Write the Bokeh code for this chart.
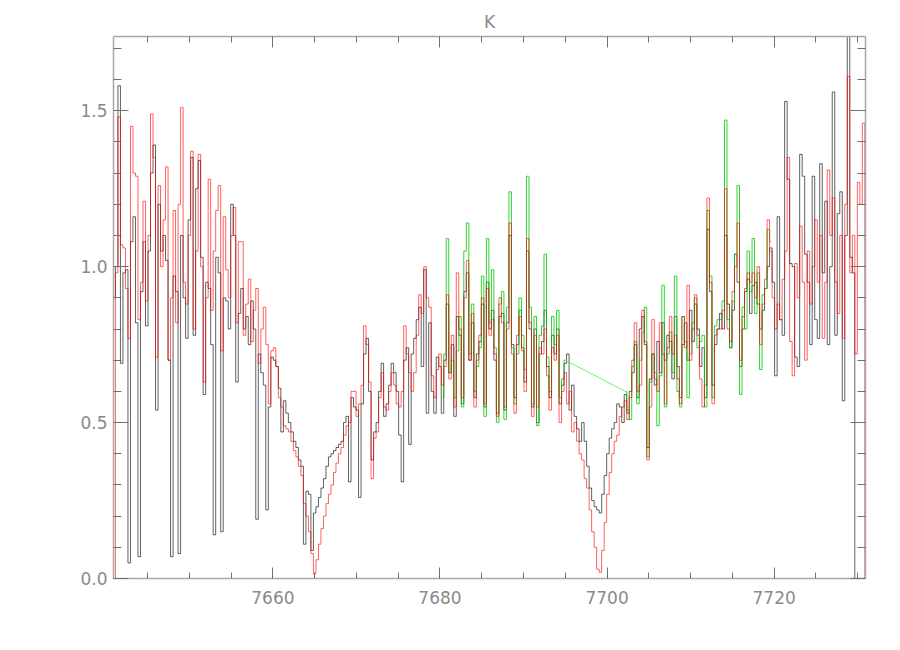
import numpy as np
from bokeh.plotting import figure
from bokeh.models import Range1d, LinearAxis, SingleIntervalTicker, PrintfTickFormatter, CustomJSTickFormatter
from bokeh.embed import file_html
from bokeh.resources import INLINE

# Wavelength grid of the spectra (Angstrom)
WAVE_START = 7641.0
WAVE_STEP = 0.3
GREEN_A_START = 7680.3
GREEN_B_START = 7702.2

# Observed spectrum (black)
BLACK = [
    0.90, 1.00, 1.58, 0.69, 0.98, 0.99, 0.05, 1.08, 1.16, 0.82,
    0.07, 0.92, 1.08, 0.81, 1.05, 1.30, 1.39, 0.54, 1.20, 1.05,
    1.10, 1.02, 0.70, 0.07, 0.97, 0.92, 0.08, 1.10, 0.90, 0.77,
    1.15, 1.35, 0.78, 1.25, 1.34, 1.03, 0.59, 0.95, 0.93, 0.75,
    0.14, 1.03, 0.98, 0.15, 0.90, 0.89, 0.80, 1.20, 1.10, 0.63,
    0.85, 0.93, 0.80, 0.84, 0.75, 0.89, 0.80, 0.19, 0.72, 0.66,
    0.62, 0.22, 0.55, 0.71,
    0.70, 0.68, 0.61, 0.47, 0.57, 0.53, 0.50, 0.47, 0.44, 0.42,
    0.38, 0.36, 0.11, 0.28, 0.27, 0.09, 0.21, 0.23, 0.26, 0.29,
    0.32, 0.36, 0.39, 0.40, 0.41, 0.42, 0.43, 0.44, 0.50, 0.52,
    0.31, 0.58, 0.55, 0.54, 0.26, 0.56, 0.72, 0.77, 0.60, 0.38,
    0.47, 0.50, 0.60, 0.69, 0.52, 0.56, 0.62, 0.69, 0.66, 0.60,
    0.46, 0.31, 0.70, 0.74, 0.43, 0.72, 0.77, 0.83, 0.87, 0.68,
    0.99, 0.53, 0.82, 0.60, 0.53, 0.71, 0.68,
    0.53, 0.70, 0.88, 0.66, 0.75, 0.52, 0.84, 0.78, 0.56, 0.92,
    0.98, 0.70, 0.82, 0.58, 0.72, 0.76, 0.88, 0.55, 0.95, 0.80,
    0.86, 0.70, 0.53, 0.84, 0.85, 0.54, 0.82, 1.10, 0.75, 0.58,
    0.75, 0.86, 0.74, 0.63, 1.05, 0.80, 0.55, 0.80, 0.50, 0.72,
    0.76, 0.86, 0.68, 0.58, 0.78, 0.72, 0.80, 0.56, 0.62, 0.69,
    0.72, 0.54, 0.62, 0.52, 0.48, 0.44,
    0.50, 0.44, 0.36, 0.29, 0.25, 0.23, 0.22, 0.21, 0.27, 0.33,
    0.40, 0.45, 0.48, 0.50, 0.56, 0.55, 0.50, 0.59, 0.53, 0.60,
    0.66, 0.75, 0.58, 0.80, 0.84, 0.75, 0.42, 0.64, 0.72, 0.62,
    0.76, 0.66, 0.82, 0.70, 0.78, 0.76, 0.64, 0.84, 0.68, 0.58,
    0.75, 0.82, 0.70, 0.86, 0.76, 0.88, 0.80, 0.68, 0.74, 0.58,
    1.12, 0.92, 0.62, 0.75, 0.80,
    0.85, 0.80, 1.10, 0.88, 0.74, 0.86, 1.04, 0.95, 0.68, 0.80,
    0.92, 0.96, 0.85, 0.94, 0.95, 0.88, 0.80, 0.86, 0.93, 1.00,
    1.06, 0.95, 0.65, 1.16, 0.83, 0.78, 1.53, 1.28, 1.01, 1.00,
    0.71, 0.68, 1.36, 1.29, 1.04, 0.95, 0.75, 1.29, 0.83, 0.77,
    1.33, 0.98, 1.21, 0.75, 1.00, 1.56, 0.78, 1.17, 1.24, 0.57,
    1.10, 1.80, 1.03, 0.98, 0.00,
]

# Model / corrected spectrum (red)
RED = [
    0.00, 0.98, 1.48, 1.07, 1.06, 0.93, 0.77, 1.45, 1.30, 1.29,
    0.83, 0.95, 1.21, 0.89, 1.10, 1.49, 1.35, 0.71, 1.26, 1.00,
    1.15, 1.32, 0.70, 0.90, 1.18, 0.82, 1.20, 1.51, 0.95, 0.88,
    1.10, 1.37, 0.80, 1.05, 1.36, 1.00, 0.63, 0.90, 1.28, 0.86,
    1.05, 1.18, 1.26, 0.73, 1.16, 0.99, 0.90, 1.10, 1.19, 0.82,
    1.08, 1.08, 0.78, 0.88, 0.96, 0.76, 0.86, 0.93, 0.69, 0.80,
    0.87, 0.75, 0.56, 0.73,
    0.74, 0.68, 0.58, 0.55, 0.49, 0.48, 0.47, 0.44, 0.41, 0.39,
    0.36, 0.33, 0.24, 0.20, 0.15, 0.08, 0.015, 0.06, 0.11, 0.16,
    0.20, 0.24, 0.27, 0.30, 0.34, 0.37, 0.40, 0.42, 0.46, 0.49,
    0.50, 0.60, 0.60, 0.52, 0.56, 0.62, 0.81, 0.75, 0.63, 0.32,
    0.45, 0.47, 0.58, 0.66, 0.55, 0.54, 0.60, 0.66, 0.62, 0.56,
    0.55, 0.60, 0.81, 0.72, 0.66, 0.60, 0.66, 0.78, 0.91, 0.85,
    1.00, 0.90, 0.87, 0.65, 0.58, 0.67, 0.72,
    0.62, 0.68, 0.91, 0.64, 0.78, 0.55, 0.98, 0.80, 0.58, 0.90,
    1.02, 0.70, 0.85, 0.55, 0.70, 0.78, 0.90, 0.56, 0.93, 0.78,
    0.83, 0.72, 0.52, 0.90, 0.82, 0.55, 0.80, 1.14, 0.72, 0.53,
    0.78, 0.84, 0.73, 0.60, 1.09, 0.82, 0.52, 0.78, 0.55, 0.74,
    0.72, 0.80, 0.65, 0.54, 0.74, 0.70, 0.78, 0.50, 0.60, 0.66,
    0.56, 0.60, 0.47, 0.50, 0.44, 0.40,
    0.38, 0.32, 0.29, 0.22, 0.15, 0.10, 0.03, 0.02, 0.09, 0.18,
    0.27, 0.34, 0.40, 0.44, 0.46, 0.52, 0.55, 0.57, 0.51, 0.58,
    0.70, 0.82, 0.60, 0.62, 0.86, 0.76, 0.38, 0.55, 0.83, 0.64,
    0.60, 0.82, 0.72, 0.56, 0.74, 0.84, 0.72, 0.78, 0.64, 0.56,
    0.84, 0.74, 0.94, 0.70, 0.80, 0.91, 0.78, 0.64, 0.55, 0.62,
    1.22, 0.95, 0.56, 0.78, 0.80,
    0.80, 0.86, 1.25, 0.80, 0.76, 0.92, 1.00, 1.14, 0.70, 0.84,
    0.93, 0.98, 0.95, 0.98, 0.90, 1.00, 0.75, 0.88, 0.96, 1.15,
    1.05, 0.90, 0.80, 0.88, 0.83, 0.96, 1.05, 1.35, 0.76, 0.65,
    1.01, 0.90, 1.13, 0.95, 0.70, 1.05, 0.88, 1.00, 1.15, 0.95,
    1.10, 0.77, 0.95, 1.31, 1.10, 1.22, 0.95, 0.85, 1.10, 0.77,
    1.20, 1.61, 0.98, 1.10, 0.72, 1.27, 1.20, 1.46, 0.00,
]

# Second observation (green), two pieces
GREEN_A = [
    0.58, 0.72, 1.09, 0.66, 0.70, 0.58, 0.73, 0.84, 0.55, 1.05,
    1.14, 0.72, 0.88, 0.60, 0.68, 0.74, 0.97, 0.52, 1.09, 0.82,
    0.99, 0.74, 0.50, 0.88, 0.92, 0.51, 0.87, 1.24, 0.74, 0.56,
    0.72, 0.90, 0.78, 0.67, 1.29, 0.87, 0.56, 0.84, 0.49, 0.78,
    0.81, 1.04, 0.71, 0.60, 0.84, 0.75, 0.86, 0.58, 0.64, 0.70,
]
GREEN_B = [
    0.60, 0.54, 0.51, 0.68, 0.76, 0.56, 0.70, 0.79, 0.87, 0.39,
    0.63, 0.72, 0.66, 0.49, 0.65, 0.94, 0.55, 0.72, 0.79, 0.66,
    0.97, 0.60, 0.55, 0.84, 0.76, 0.58, 0.72, 0.82, 0.90, 0.74,
    0.76, 0.78, 0.55, 1.18, 0.97, 0.58, 0.81, 0.83,
    0.83, 0.89, 1.47, 0.83, 0.74, 0.89, 1.04, 1.26, 0.59, 0.87,
    0.80, 1.05, 0.92, 1.09, 0.85, 0.98, 0.67, 0.91, 0.93, 1.12, 1.08,
]

TITLE = "K"
X_RANGE = (7640.92, 7730.93)
Y_RANGE = (0.0, 1.738)

xb = WAVE_START + WAVE_STEP * np.arange(len(BLACK))
xr = WAVE_START + WAVE_STEP * np.arange(len(RED))
xga = GREEN_A_START + WAVE_STEP * np.arange(len(GREEN_A))
xgb = GREEN_B_START + WAVE_STEP * np.arange(len(GREEN_B))

p = figure(width=884, height=634,
           x_range=Range1d(*X_RANGE), y_range=Range1d(*Y_RANGE),
           output_backend="svg", toolbar_location=None,
           min_border_left=113, min_border_right=19,
           min_border_top=36, min_border_bottom=56)

p.xgrid.visible = False
p.ygrid.visible = False
p.outline_line_color = None
p.background_fill_color = "white"
p.border_fill_color = "white"

TXT = "#8a8a8a"
FONT = "DejaVu Sans"

p.title.text = TITLE
p.title.align = "center"
p.title.text_font = FONT
p.title.text_font_size = "17px"
p.title.text_font_style = "normal"
p.title.text_color = TXT
p.title.standoff = 9


def style(ax, major_in, minor_in, labels=True):
    ax.axis_line_color = "#a8a8a8"
    ax.axis_line_width = 1.5
    ax.major_tick_line_color = "#707070"
    ax.minor_tick_line_color = "#707070"
    ax.major_tick_in = major_in
    ax.major_tick_out = 0
    ax.minor_tick_in = minor_in
    ax.minor_tick_out = 0
    ax.major_label_text_font = FONT
    ax.major_label_text_font_size = "17px"
    ax.major_label_text_color = TXT
    if not labels:
        ax.formatter = CustomJSTickFormatter(code="return ''")
        ax.major_label_standoff = 0


xt = SingleIntervalTicker(interval=20, num_minor_ticks=4)
yt = SingleIntervalTicker(interval=0.5, num_minor_ticks=5)

p.xaxis.ticker = xt
p.yaxis.ticker = yt
p.yaxis.formatter = PrintfTickFormatter(format="%.1f")
style(p.xaxis[0], 11, 6)
style(p.yaxis[0], 15, 8)
p.xaxis.major_label_standoff = 12
p.yaxis.major_label_standoff = 6

top = LinearAxis(ticker=SingleIntervalTicker(interval=20, num_minor_ticks=4))
style(top, 11, 6, labels=False)
p.add_layout(top, "above")
right = LinearAxis(ticker=SingleIntervalTicker(interval=0.5, num_minor_ticks=5))
style(right, 15, 8, labels=False)
p.add_layout(right, "right")

p.step(xb, BLACK, mode="center", line_color="black", line_width=1, line_alpha=0.62)
p.step(xga, GREEN_A, mode="center", line_color="#00c800", line_width=1, line_alpha=0.8)
p.step(xgb, GREEN_B, mode="center", line_color="#00c800", line_width=1, line_alpha=0.8)
p.line([xga[-1], xgb[0]], [GREEN_A[-1], GREEN_B[0]], line_color="#33ff33", line_width=1, line_alpha=0.8)
p.step(xr, RED, mode="center", line_color="#ff0000", line_width=1, line_alpha=0.62)

open("out.html", "w").write(file_html(p, INLINE))
